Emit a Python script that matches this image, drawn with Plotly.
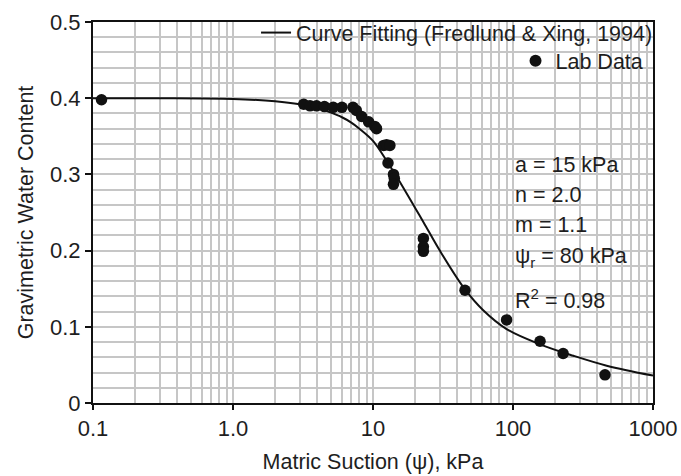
import plotly.graph_objects as go

# Fitted curve
curve_x = [0.1, 0.3, 1, 2, 3, 4, 5, 6, 7, 8, 10, 12.8, 15, 20, 23, 30, 45, 61, 90, 156, 270, 467, 1000]
curve_y = [0.400, 0.400, 0.399, 0.396, 0.392, 0.387, 0.381, 0.375, 0.368, 0.360, 0.344, 0.315,
           0.295, 0.256, 0.237, 0.200, 0.150, 0.122, 0.097, 0.077, 0.062, 0.049, 0.036]

# Lab data
lab_x = [0.115, 3.2, 3.55, 3.95, 4.5, 5.2, 6.0, 7.2, 7.6, 8.3, 9.3, 10.3, 10.6, 11.9, 12.5, 13.2,
         12.8, 14.0, 14.2, 14.0, 22.9, 22.9, 22.9, 45.4, 90, 156, 228, 454]
lab_y = [0.398, 0.392, 0.390, 0.390, 0.389, 0.388, 0.388, 0.388, 0.384, 0.376, 0.369, 0.363, 0.360,
         0.338, 0.339, 0.338, 0.315, 0.300, 0.295, 0.287, 0.216, 0.205, 0.199, 0.148, 0.109, 0.081,
         0.065, 0.037]

x_tickvals = [0.1, 1, 10, 100, 1000]
x_ticktext = ["0.1", "1.0", "10", "100", "1000"]
y_tickvals = [0, 0.1, 0.2, 0.3, 0.4, 0.5]
y_ticktext = ["0", "0.1", "0.2", "0.3", "0.4", "0.5"]

params = ["a = 15 kPa", "n = 2.0", "m = 1.1", "ψ<sub>r</sub> = 80 kPa", "R<sup>2</sup> = 0.98"]
params_y = [0.625, 0.545, 0.467, 0.383, 0.273]

FONT = "Liberation Sans, Arial, sans-serif"
TXT = "#1e1e1e"
GRID = "#c6c6c6"
FS = 21.5

fig = go.Figure()
fig.add_trace(go.Scatter(x=curve_x, y=curve_y, mode="lines", line=dict(color="#111111", width=2, shape="spline"),
                         name="Curve Fitting (Fredlund &amp; Xing, 1994)", legend="legend", showlegend=True))
fig.add_trace(go.Scatter(x=lab_x, y=lab_y, mode="markers", marker=dict(color="#111111", size=11.5),
                         name="Lab Data", legend="legend2", showlegend=True))

for t, yy in zip(params, params_y):
    fig.add_annotation(text=t, xref="paper", yref="paper", x=0.750, y=yy, xanchor="left", yanchor="middle",
                       showarrow=False, font=dict(family=FONT, size=FS, color=TXT))

fig.update_layout(
    width=681, height=476,
    margin=dict(l=93, r=28, t=15, b=73),
    paper_bgcolor="white", plot_bgcolor="white",
    showlegend=True,
    font=dict(family=FONT, size=FS, color=TXT),
    legend=dict(x=1.009, xanchor="right", y=1.026, yanchor="top", bgcolor="rgba(0,0,0,0)",
                font=dict(family=FONT, size=FS, color=TXT), tracegroupgap=0),
    legend2=dict(x=0.992, xanchor="right", y=0.952, yanchor="top", bgcolor="rgba(0,0,0,0)",
                 font=dict(family=FONT, size=FS, color=TXT), itemsizing="constant"),
)
fig.update_xaxes(type="log", range=[-1, 3], tickvals=x_tickvals, ticktext=x_ticktext, automargin=False,
                 showline=True, linecolor="#111111", linewidth=2, mirror=True,
                 ticks="outside", ticklen=5, tickwidth=2, tickcolor="#111111",
                 showgrid=True, gridcolor=GRID, gridwidth=1.6, zeroline=False,
                 minor=dict(dtick="D1", showgrid=True, gridcolor=GRID, gridwidth=1.6, ticks=""),
                 title=dict(text="Matric Suction (ψ), kPa", font=dict(family=FONT, size=FS, color=TXT), standoff=14),
                 tickfont=dict(family=FONT, size=22, color=TXT))
fig.update_yaxes(range=[0, 0.5], tickvals=y_tickvals, ticktext=y_ticktext, automargin=False,
                 showline=True, linecolor="#111111", linewidth=2, mirror=True,
                 ticks="outside", ticklen=6, tickwidth=2, tickcolor="#111111",
                 showgrid=True, gridcolor=GRID, gridwidth=1.6, zeroline=False,
                 minor=dict(dtick=0.02, showgrid=True, gridcolor=GRID, gridwidth=1.6, ticks=""),
                 title=dict(text="Gravimetric Water Content", font=dict(family=FONT, size=FS, color=TXT), standoff=10),
                 tickfont=dict(family=FONT, size=22, color=TXT))

fig.write_html("out.html")
